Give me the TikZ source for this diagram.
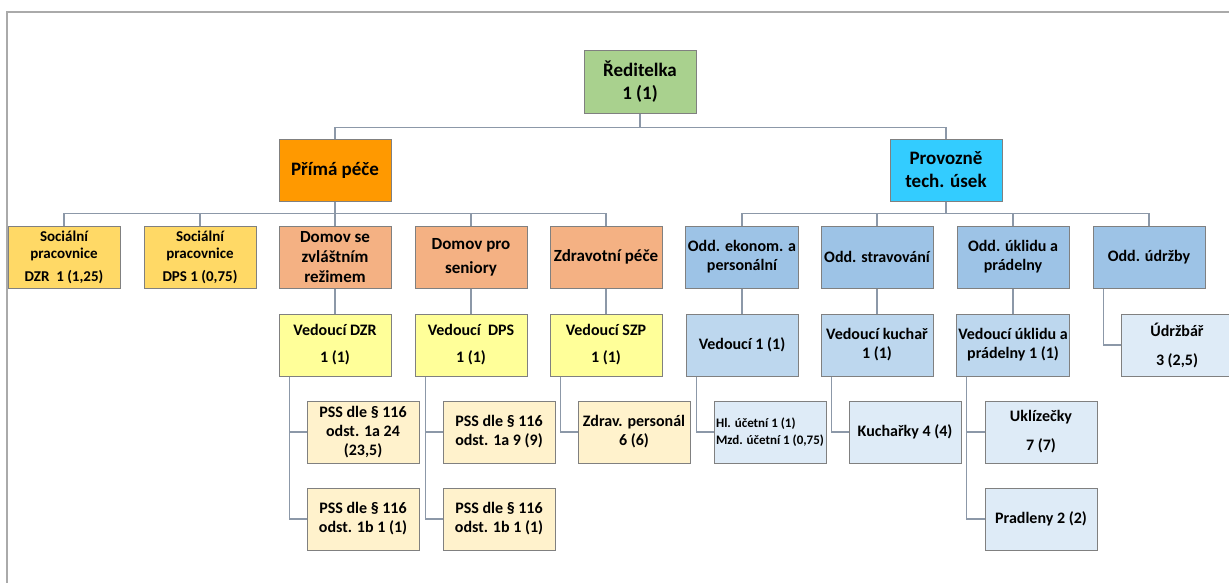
\documentclass[tikz,border=0pt]{standalone}
\usepackage{fontspec}
\setmainfont{Carlito}
\definecolor{rootgreen}{RGB}{169,209,142}
\definecolor{primaorange}{RGB}{255,153,0}
\definecolor{provcyan}{RGB}{51,204,255}
\definecolor{socgold}{RGB}{255,217,102}
\definecolor{domsalmon}{RGB}{244,177,131}
\definecolor{oddblue}{RGB}{157,195,230}
\definecolor{vedyellow}{RGB}{255,255,153}
\definecolor{vedblue}{RGB}{189,215,238}
\definecolor{psscream}{RGB}{255,242,204}
\definecolor{staffblue}{RGB}{222,235,247}
\definecolor{boxline}{RGB}{128,128,128}
\definecolor{linkcol}{RGB}{140,152,168}
\definecolor{framecol}{RGB}{170,170,170}
\begin{document}
\begin{tikzpicture}[x=0.5pt,y=-0.5pt,
  box/.style={draw=boxline,line width=0.5pt,minimum width=56pt,minimum height=31pt,inner sep=1pt,align=center,font=\bfseries\fontsize{8}{9.5}\selectfont},
  topbox/.style={box,font=\bfseries\fontsize{9.5}{11.5}\selectfont},
  link/.style={draw=linkcol,line width=0.6pt}]
\useasboundingbox (0,0) rectangle (1229,583);
\draw [framecol,line width=0.6pt] (1229,12) -- (7,12) -- (7,583);
\node [topbox,fill=rootgreen] (red) at (640,82) {Ředitelka\\1 (1)};
\node [topbox,fill=primaorange] (prima) at (335,170) {Přímá péče};
\node [topbox,fill=provcyan] (prov) at (946,170) {Provozně\\tech. úsek};
\node [box,fill=socgold,font=\bfseries\fontsize{7.5}{8.5}\selectfont] (socdzr) at (64,257) {Sociální\\pracovnice\\[3pt]DZR~~1 (1,25)};
\node [box,fill=socgold,font=\bfseries\fontsize{7.5}{8.5}\selectfont] (socdps) at (200,257) {Sociální\\pracovnice\\[3pt]DPS 1 (0,75)};
\node [box,fill=domsalmon,font=\bfseries\fontsize{8.5}{10}\selectfont] (dzr) at (335,257) {Domov se\\zvláštním\\režimem};
\node [box,fill=domsalmon,font=\bfseries\fontsize{8.5}{12}\selectfont] (dps) at (471,257) {Domov pro\\seniory};
\node [box,fill=domsalmon,font=\bfseries\fontsize{8.5}{10}\selectfont] (zdr) at (606,257) {Zdravotní péče};
\node [box,fill=oddblue] (ekon) at (742,257) {Odd. ekonom. a\\personální};
\node [box,fill=oddblue] (strav) at (877,257) {Odd. stravování};
\node [box,fill=oddblue] (uklid) at (1013,257) {Odd. úklidu a\\prádelny};
\node [box,fill=oddblue] (udrz) at (1149,257) {Odd. údržby};
\node [box,fill=vedyellow] (vdzr) at (335,345) {Vedoucí DZR\\[4pt]1 (1)};
\node [box,fill=vedyellow] (vdps) at (471,345) {Vedoucí~ DPS\\[4pt]1 (1)};
\node [box,fill=vedyellow] (vszp) at (606,345) {Vedoucí SZP\\[4pt]1 (1)};
\node [box,fill=vedblue] (vek) at (742,345) {Vedoucí 1 (1)};
\node [box,fill=vedblue] (vkuch) at (877,345) {Vedoucí kuchař\\1 (1)};
\node [box,fill=vedblue] (vukl) at (1013,345) {Vedoucí úklidu a\\prádelny 1 (1)};
\node [box,fill=staffblue] (udrzbar) at (1177,345) {Údržbář\\[5pt]3 (2,5)};
\node [box,fill=psscream] (pssdzra) at (363,432) {PSS dle § 116\\odst. 1a 24\\(23,5)};
\node [box,fill=psscream] (pssdpsa) at (499,432) {PSS dle § 116\\odst. 1a 9 (9)};
\node [box,fill=psscream] (zdrpers) at (634,432) {Zdrav. personál\\6 (6)};
\node [box,fill=staffblue,font=\bfseries\fontsize{6.5}{8.5}\selectfont,align=left] (ucetni) at (770,432) {Hl. účetní 1 (1)\\Mzd. účetní 1 (0,75)};
\node [box,fill=staffblue] (kuchar) at (905,432) {Kuchařky 4 (4)};
\node [box,fill=staffblue] (ukliz) at (1041,432) {Uklízečky\\[5pt]7 (7)};
\node [box,fill=psscream] (pssdzrb) at (363,519) {PSS dle § 116\\odst. 1b 1 (1)};
\node [box,fill=psscream] (pssdpsb) at (499,519) {PSS dle § 116\\odst. 1b 1 (1)};
\node [box,fill=staffblue] (pradl) at (1041,519) {Pradleny 2 (2)};
\draw [link] (red.south) -- ++(0,14) -| (prima.north);
\draw [link] (red.south) -- ++(0,14) -| (prov.north);
\foreach \c in {socdzr,socdps,dzr,dps,zdr}
  \draw [link] (prima.south) -- ++(0,12) -| (\c.north);
\foreach \c in {ekon,strav,uklid,udrz}
  \draw [link] (prov.south) -- ++(0,12) -| (\c.north);
\draw [link] (dzr.south) -- (vdzr.north);
\draw [link] (dps.south) -- (vdps.north);
\draw [link] (zdr.south) -- (vszp.north);
\draw [link] (ekon.south) -- (vek.north);
\draw [link] (strav.south) -- (vkuch.north);
\draw [link] (uklid.south) -- (vukl.north);
\draw [link] ([xshift=5.5pt]udrz.south west) |- (udrzbar.west);
\draw [link] ([xshift=5.5pt]vdzr.south west) |- (pssdzra.west);
\draw [link] ([xshift=5.5pt]vdzr.south west) |- (pssdzrb.west);
\draw [link] ([xshift=5.5pt]vdps.south west) |- (pssdpsa.west);
\draw [link] ([xshift=5.5pt]vdps.south west) |- (pssdpsb.west);
\draw [link] ([xshift=5.5pt]vszp.south west) |- (zdrpers.west);
\draw [link] ([xshift=5.5pt]vek.south west) |- (ucetni.west);
\draw [link] ([xshift=5.5pt]vkuch.south west) |- (kuchar.west);
\draw [link] ([xshift=5.5pt]vukl.south west) |- (ukliz.west);
\draw [link] ([xshift=5.5pt]vukl.south west) |- (pradl.west);
\end{tikzpicture}
\end{document}
